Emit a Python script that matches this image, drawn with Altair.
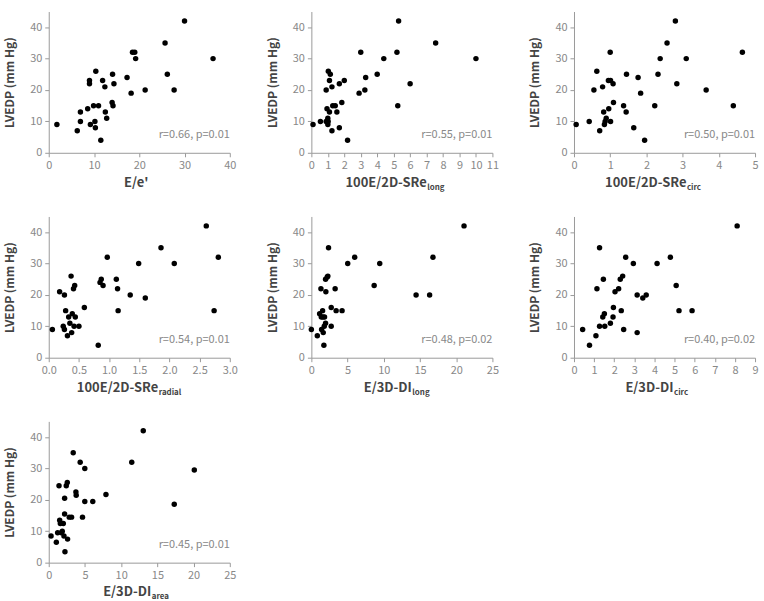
import altair as alt
import pandas as pd

FONT = "Noto Sans CJK KR"

# LVEDP (mm Hg) against each index
ee_x = [1.8, 6.3, 7.0, 7.0, 8.6, 9.0, 9.0, 9.2, 9.9, 10.2, 10.3, 10.4, 11.0, 11.5, 11.9,
        12.4, 12.5, 12.8, 14.1, 14.0, 14.2, 14.4, 17.3, 18.2, 18.5, 19.0, 19.2, 21.3,
        25.7, 26.2, 27.7, 30.0, 36.3]
ee_y = [9, 7, 13, 10, 14, 23, 22, 9, 15, 10, 8, 26, 15, 4, 23,
        21, 13, 11, 25, 16, 15, 22, 24, 19, 32, 32, 30, 20,
        35, 25, 20, 42, 30]

sr_long_x = [0.1, 0.55, 0.9, 0.9, 0.95, 1.0, 1.0, 1.02, 1.03, 1.1, 1.1, 1.15, 1.25, 1.25,
             1.3, 1.45, 1.55, 1.7, 1.7, 1.85, 2.0, 2.2, 2.9, 3.0, 3.25, 3.3, 4.0, 4.4,
             5.2, 5.25, 5.3, 6.0, 7.55, 10.0]
sr_long_y = [9, 10, 10, 20, 14, 11, 9, 10, 26, 23, 13, 25, 21, 7,
             15, 15, 13, 8, 22, 16, 23, 4, 19, 32, 20, 24, 25, 30,
             32, 15, 42, 22, 35, 30]

sr_circ_x = [0.06, 0.42, 0.55, 0.63, 0.71, 0.79, 0.82, 0.84, 0.86, 0.89, 0.95, 0.96, 1.0,
             1.01, 1.01, 1.08, 1.09, 1.37, 1.44, 1.45, 1.65, 1.77, 1.84, 1.95, 2.23, 2.32,
             2.38, 2.57, 2.8, 2.84, 3.1, 3.65, 4.4, 4.65]
sr_circ_y = [9, 10, 20, 26, 7, 21, 13, 9, 10, 11, 23, 14, 32,
             10, 23, 22, 16, 15, 13, 25, 8, 24, 19, 4, 15, 25,
             30, 35, 42, 22, 30, 20, 15, 32]

sr_radial_x = [0.06, 0.18, 0.24, 0.26, 0.26, 0.28, 0.31, 0.33, 0.35, 0.37, 0.38, 0.39, 0.41,
               0.42, 0.43, 0.44, 0.5, 0.59, 0.82, 0.85, 0.87, 0.9, 0.97, 1.12, 1.14, 1.15,
               1.35, 1.49, 1.6, 1.86, 2.08, 2.61, 2.74, 2.81]
sr_radial_y = [9, 21, 10, 20, 9, 15, 7, 13, 11, 26, 8, 14, 22,
               10, 23, 13, 10, 16, 4, 24, 25, 23, 32, 25, 22, 15,
               20, 30, 19, 35, 30, 42, 15, 32]

di_long_x = [0.0, 0.82, 1.14, 1.32, 1.37, 1.41, 1.55, 1.6, 1.64, 1.73, 1.78, 1.82, 1.96,
             2.0, 1.96, 2.19, 2.28, 2.37, 2.74, 2.74, 3.28, 3.42, 4.24, 5.02, 5.98, 8.67,
             9.44, 14.46, 16.33, 16.79, 21.08]
di_long_y = [9, 7, 14, 22, 13, 9, 15, 13, 8, 4, 10, 13, 11,
             21, 25, 25.7, 26, 35, 16, 10, 22, 15, 15, 30, 32, 23,
             30, 20, 20, 32, 42]

di_circ_x = [0.43, 0.77, 1.09, 1.14, 1.27, 1.27, 1.43, 1.46, 1.51, 1.53, 1.81, 1.94, 1.96,
             2.04, 2.22, 2.3, 2.35, 2.42, 2.47, 2.57, 2.95, 3.14, 3.14, 3.42, 3.59, 4.13,
             4.79, 5.08, 5.22, 5.87, 8.11]
di_circ_y = [9, 4, 7, 22, 10, 35, 13, 25, 14, 10, 11, 13, 16,
             21, 22, 25, 15, 26, 9, 32, 30, 8, 20, 19, 20, 30,
             32, 23, 15, 15, 42]

di_area_x = [0.32, 1.05, 1.23, 1.42, 1.51, 1.6, 1.74, 1.87, 2.01, 2.1, 2.19, 2.19, 2.24,
             2.42, 2.56, 2.6, 2.83, 3.15, 3.38, 3.75, 3.79, 4.34, 4.66, 4.98, 4.98, 6.08,
             7.9, 11.46, 13.05, 17.33, 20.1]
di_area_y = [8.5, 6.5, 9.5, 24.5, 13.5, 12.5, 9.5, 10, 12.5, 8.5, 20.5, 15.5, 3.5,
             24.5, 25.5, 7.5, 14.5, 14.5, 35, 22.5, 21.5, 32, 14.5, 30, 19.5, 19.5,
             21.7, 32, 42, 18.6, 29.5]

W, H = 182, 142


def panel(xs, ys, xmax, xticks, fmt, main, sub, anchor, note):
    df = pd.DataFrame({"x": xs, "y": ys})
    pts = alt.Chart(df).mark_circle(size=30, color="black", opacity=1).encode(
        x=alt.X("x:Q",
                scale=alt.Scale(domain=[0, xmax], nice=False, zero=True),
                axis=alt.Axis(values=xticks, format=fmt, title=None)),
        y=alt.Y("y:Q",
                scale=alt.Scale(domain=[0, 45], nice=False),
                axis=alt.Axis(values=[0, 10, 20, 30, 40], title="LVEDP (mm Hg)")),
    )
    note_layer = alt.Chart(pd.DataFrame({"t": [note]})).mark_text(
        align="right", baseline="middle", fontSize=11, color="#888", font=FONT
    ).encode(x=alt.value(W), y=alt.value(H - 18), text="t:N")
    main_layer = alt.Chart(pd.DataFrame({"t": [main]})).mark_text(
        align="right" if sub else "center", baseline="middle", fontSize=13,
        fontWeight="bold", color="#444", font=FONT
    ).encode(x=alt.value(anchor), y=alt.value(H + 30), text="t:N")
    layers = [pts, note_layer, main_layer]
    if sub:
        sub_layer = alt.Chart(pd.DataFrame({"t": [sub]})).mark_text(
            align="left", baseline="middle", fontSize=8, fontWeight="bold",
            color="#444", font=FONT
        ).encode(x=alt.value(anchor + 0.5), y=alt.value(H + 35), text="t:N")
        layers.append(sub_layer)
    return alt.layer(*layers).properties(width=W, height=H)


p1 = panel(ee_x, ee_y, 40, [0, 10, 20, 30, 40], "d", "E/e'", "", 88, "r=0.66, p=0.01")
p2 = panel(sr_long_x, sr_long_y, 11, list(range(0, 12)), "d", "100E/2D-SRe", "long", 116,
           "r=0.55, p=0.01")
p3 = panel(sr_circ_x, sr_circ_y, 5, [0, 1, 2, 3, 4, 5], "d", "100E/2D-SRe", "circ", 113,
           "r=0.50, p=0.01")
p4 = panel(sr_radial_x, sr_radial_y, 3, [0, 0.5, 1, 1.5, 2, 2.5, 3], ".1f", "100E/2D-SRe",
           "radial", 110, "r=0.54, p=0.01")
p5 = panel(di_long_x, di_long_y, 25, [0, 5, 10, 15, 20, 25], "d", "E/3D-DI", "long", 101,
           "r=0.48, p=0.02")
p6 = panel(di_circ_x, di_circ_y, 9, list(range(0, 10)), "d", "E/3D-DI", "circ", 100,
           "r=0.40, p=0.02")
p7 = panel(di_area_x, di_area_y, 25, [0, 5, 10, 15, 20, 25], "d", "E/3D-DI", "area", 103,
           "r=0.45, p=0.01")

chart = alt.concat(
    p1, p2, p3, p4, p5, p6, p7,
    columns=3,
    spacing=alt.RowColnumber(row=64, column=82),
    bounds="flush",
).properties(
    padding={"left": 3, "top": 10, "right": 5, "bottom": 5}
).configure_view(stroke=None).configure_axis(
    grid=False,
    domainColor="#999",
    tickColor="#999",
    tickSize=4,
    labelColor="#888",
    labelFont=FONT,
    labelFontSize=11,
    labelPadding=3,
    titleFont=FONT,
    titleFontSize=12,
    titleFontWeight="bold",
    titleColor="#444",
    titlePadding=13,
).configure_axisX(labelFlush=False)

chart.save("out.html", embed_options={"renderer": "svg", "actions": False})
